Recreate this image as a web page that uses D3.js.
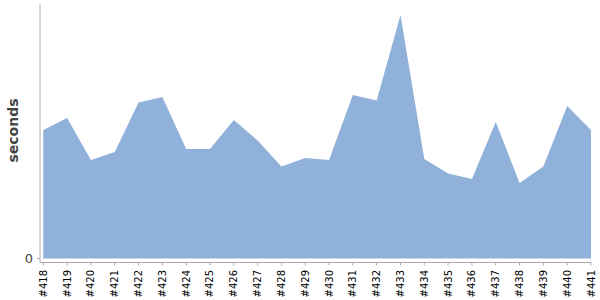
<!DOCTYPE html>
<html>
<head>
<meta charset="utf-8">
<script src="https://cdn.jsdelivr.net/npm/d3@7"></script>
<style>
  body { margin: 0; background: #fff; }
  svg { display: block; }
</style>
</head>
<body>
<svg id="chart" width="600" height="300"></svg>
<script>
const builds = ["#418","#419","#420","#421","#422","#423","#424","#425","#426","#427","#428","#429",
                "#430","#431","#432","#433","#434","#435","#436","#437","#438","#439","#440","#441"];
const seconds = [128.5,140.5,98.5,106.5,156,161.5,109.5,109.5,138.5,118,92,100.5,
                 98.5,163.5,158,243.5,99.5,85,79.5,136.5,75.5,92,152.5,128.5];
const yTicks = [0];
const yLabel = "seconds";

const svg = d3.select("#chart");
const margin = {left: 43.3, right: 9, top: 4, bottom: 41.5};
const W = 600, H = 300;

const x = d3.scalePoint().domain(builds).range([margin.left, W - margin.right]);
const y = d3.scaleLinear().domain([0, 254.5]).range([H - margin.bottom, margin.top]);

const data = builds.map((b, i) => ({b, v: seconds[i]}));

svg.append("path")
  .datum(data)
  .attr("fill", "#8fb1da")
  .attr("d", d3.area().x(d => x(d.b)).y0(y(0)).y1(d => y(d.v)));

// y axis
const yAxis = svg.append("g").attr("transform", "translate(40,0)");
yAxis.append("line").attr("x1", 0).attr("x2", 0).attr("y1", 4).attr("y2", 262.5)
  .attr("stroke", "#aaa").attr("stroke-width", 1);
yAxis.selectAll("text.tick").data(yTicks).join("text")
  .attr("x", -7).attr("y", d => y(d)).attr("dy", "0.35em")
  .attr("text-anchor", "end").attr("fill", "#444")
  .style("font", "13px 'DejaVu Sans', sans-serif").text(d => d);
yAxis.selectAll("line.tk").data(yTicks).join("line").attr("class","tk")
  .attr("x1", -3).attr("x2", 0).attr("y1", d => y(d)).attr("y2", d => y(d))
  .attr("stroke", "#aaa");

// x axis
const xg = svg.append("g").attr("transform", "translate(0,262.5)");
xg.append("line").attr("x1", 40).attr("x2", W - margin.right).attr("y1", 0).attr("y2", 0)
  .attr("stroke", "#aaa");
xg.selectAll("line.tk").data(builds).join("line").attr("class","tk")
  .attr("x1", d => x(d)).attr("x2", d => x(d)).attr("y1", 0).attr("y2", 3)
  .attr("stroke", "#aaa");
xg.selectAll("text").data(builds).join("text")
  .attr("transform", d => `translate(${x(d)},7.5) rotate(-90)`)
  .attr("text-anchor", "end").attr("dy", "0.35em")
  .attr("fill", "#000")
  .style("font", "10px 'DejaVu Sans', sans-serif")
  .text(d => d);

svg.append("text")
  .attr("transform", "translate(13,130.5) rotate(-90)")
  .attr("text-anchor", "middle").attr("dy", "0.35em")
  .attr("fill", "#444")
  .style("font", "bold 14px 'DejaVu Sans', sans-serif")
  .text(yLabel);
</script>
</body>
</html>
